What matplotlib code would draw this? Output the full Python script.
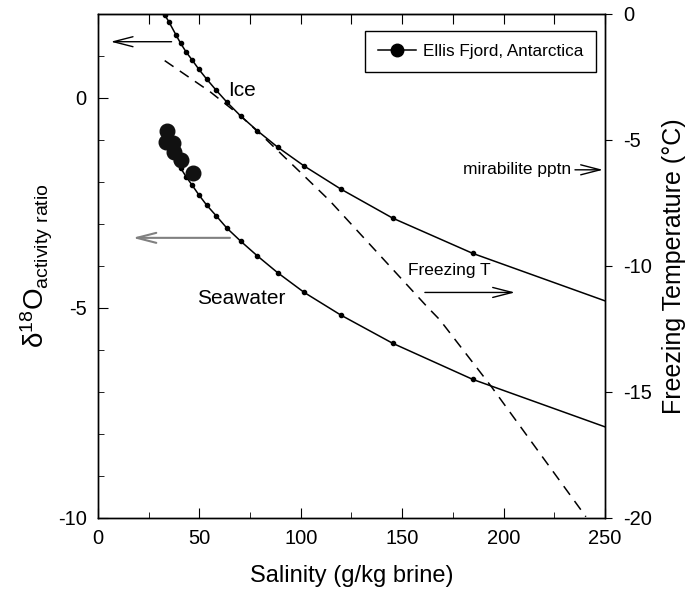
import matplotlib
matplotlib.use("Agg")
import matplotlib.pyplot as plt
from matplotlib.lines import Line2D

plt.rcParams["font.family"] = ["Liberation Sans", "DejaVu Sans"]
plt.rcParams["mathtext.default"] = "regular"
plt.rcParams["axes.unicode_minus"] = False

# salinity (g/kg brine) of the model points
salinity = [32.9, 34.9, 38.6, 40.8, 43.4, 46.5, 49.8, 53.6, 58.2, 63.6,
            70.4, 78.6, 88.6, 101.7, 119.8, 145.3, 184.8, 250.0]
# delta 18O activity ratio, ice and seawater
ice = [1.98, 1.82, 1.49, 1.30, 1.10, 0.90, 0.68, 0.45, 0.19, -0.10,
       -0.43, -0.78, -1.17, -1.62, -2.17, -2.86, -3.70, -4.83]
seawater = [-1.02, -1.18, -1.51, -1.67, -1.87, -2.08, -2.31, -2.55, -2.80, -3.10,
            -3.41, -3.76, -4.16, -4.63, -5.17, -5.84, -6.70, -7.83]

# freezing temperature curve (right axis)
frz_salinity = [32.9, 55.2, 70.4, 81.5, 101.2, 114.4, 162.1, 168.6, 185.1, 194.1, 240.6]
frz_temp = [-1.85, -3.08, -4.05, -4.87, -6.39, -7.42, -11.6, -12.14, -13.86, -14.8, -19.95]

# Ellis Fjord, Antarctica samples
ellis_sal = [34.2, 33.5, 36.8, 37.6, 40.9, 47.0]
ellis_d18o = [-0.79, -1.04, -1.06, -1.28, -1.48, -1.79]

fig = plt.figure(figsize=(6.87, 5.93), dpi=100)
ax = fig.add_axes([0.1426, 0.1265, 0.738, 0.8499])

marks = list(range(len(salinity) - 1))
ax.plot(salinity, ice, color="black", lw=1.1, marker="o", ms=3, markevery=marks)
ax.plot(salinity, seawater, color="black", lw=1.1, marker="o", ms=3, markevery=marks)
ax.plot(ellis_sal, ellis_d18o, ls="none", marker="o", ms=10.5, color="#111111")

ax.set_xlim(0, 250)
ax.set_ylim(-10, 2)
ax.set_xticks([0, 50, 100, 150, 200, 250])
ax.set_xticks(range(25, 250, 50), minor=True)
ax.set_yticks([-10, -5, 0])
ax.set_yticks([v for v in range(-10, 3) if v % 5 != 0], minor=True)
ax.tick_params(which="both", direction="in", labelsize=14.5, top=False, right=False)
ax.tick_params(which="major", length=7, pad=8)
ax.tick_params(which="minor", length=4)
ax.set_xlabel("Salinity (g/kg brine)", fontsize=17, labelpad=12)
ax.set_ylabel(r"$\delta^{18}$O$_{activity\ ratio}$", fontsize=20, labelpad=2)

top = ax.secondary_xaxis("top")
top.set_xticks(range(0, 251, 25))
top.tick_params(direction="in", length=7, labeltop=False)

ax2 = ax.twinx()
ax2.plot(frz_salinity, frz_temp, color="black", lw=1.1, ls=(0, (7, 5)))
ax2.set_ylim(-20, 0)
ax2.set_yticks([0, -5, -10, -15, -20])
ax2.tick_params(direction="out", length=5, labelsize=14.5, pad=8)
ax2.set_ylabel("Freezing Temperature (\u00b0C)", fontsize=18, labelpad=7)

for a in (ax, ax2):
    for s in a.spines.values():
        s.set_linewidth(1.0)

# labels and arrows
ax.text(64.3, 0.19, "Ice", fontsize=15, va="center")
ax.text(49, -4.77, "Seawater", fontsize=15, va="center")
ax.text(153, -4.11, "Freezing T", fontsize=12.5, va="center")
ax.text(180, -1.71, "mirabilite pptn", fontsize=12.5, va="center")

arr = dict(arrowstyle="->,head_length=1.4,head_width=0.36", mutation_scale=10,
           shrinkA=0, shrinkB=0, lw=1.0, color="black")
ax.annotate("", xy=(6.3, 1.34), xytext=(36.3, 1.34), arrowprops=arr)
ax.annotate("", xy=(17.1, -3.33), xytext=(65.1, -3.33),
            arrowprops=dict(arr, color="#808080", lw=1.5))
ax.annotate("", xy=(205.6, -4.63), xytext=(161.2, -4.63), arrowprops=arr)
ax.annotate("", xy=(249.0, -1.71), xytext=(235.2, -1.71), arrowprops=arr)

handle = Line2D([], [], color="black", lw=1.1, marker="o", ms=9)
leg = ax.legend([handle], ["Ellis Fjord, Antarctica"], loc="upper right",
                bbox_to_anchor=(0.982, 0.966), borderaxespad=0, fontsize=12.3,
                fancybox=False, framealpha=1, edgecolor="black", borderpad=0.75,
                handlelength=2.2, handletextpad=0.4)
leg.get_frame().set_linewidth(1.0)

fig.savefig("out.png", dpi=100)
